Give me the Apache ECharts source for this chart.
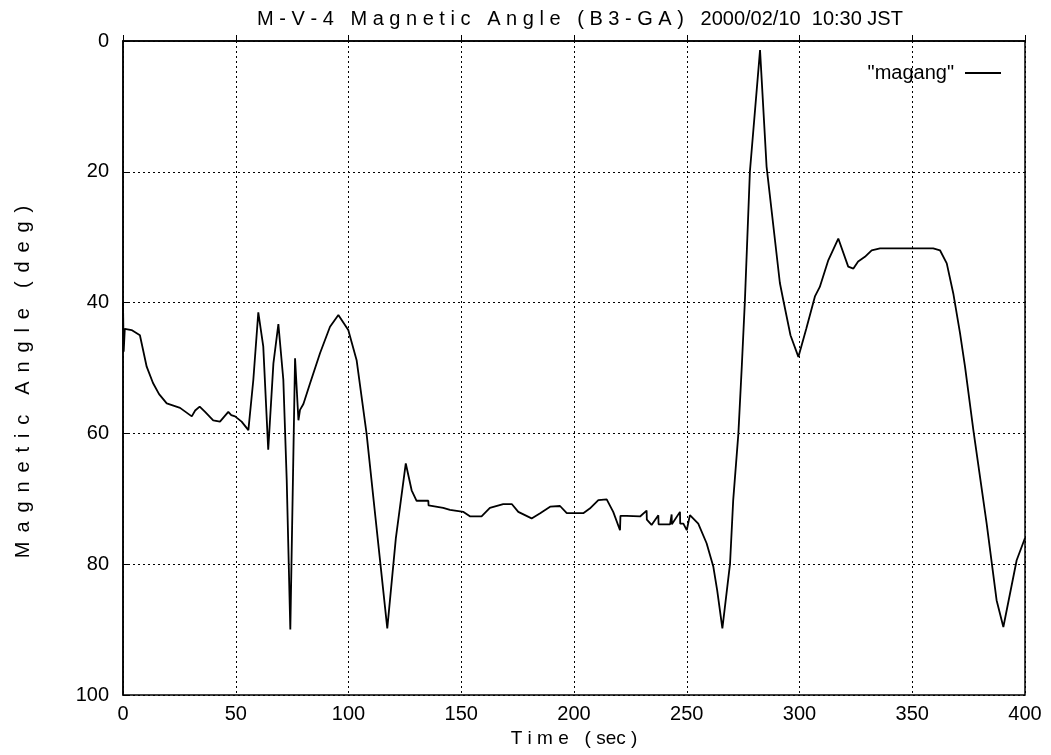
<!DOCTYPE html>
<html>
<head>
<meta charset="utf-8">
<script src="https://cdn.jsdelivr.net/npm/echarts@6/dist/echarts.min.js"></script>
<style>
html,body{margin:0;padding:0;background:#fff;}
#chart{width:1051px;height:755px;}
</style>
</head>
<body>
<div id="chart"></div>
<script>
var titleText = 'M - V - 4   M a g n e t i c   A n g l e   ( B 3 - G A )   2000/02/10  10:30 JST';
var xName = 'T i m e   ( sec )';
var yName = 'M \u2006a \u2006g \u2006n \u2006e \u2006t \u2006i \u2006c   \u2006A \u2006n \u2006g \u2006l \u2006e   \u2006( \u2006d \u2006e \u2006g \u2006)';
var seriesName = '"magang"';

var timeSec = [
  0, 0.3, 0.8, 3.8, 7.5, 10.5, 13.3, 16, 19.4, 25.3, 30.5, 32, 34, 36.4, 40, 43, 46.7, 48, 49.7, 52.6, 55.6,
  57.8, 60, 62.2, 64.4, 66.7, 68.9, 71.1, 72.6, 74.2, 76.3, 77.8, 78.5, 80, 83, 87.4, 91.8, 95.5, 99.9,
  103.6, 108, 112, 117.2, 121, 125.4, 128, 130.2, 135.4, 135.5, 142, 145, 151, 154, 159, 162.7, 168.6,
  172.4, 175.3, 181.2, 185, 189.4, 193.8, 196.8, 204.1, 207, 210.8, 214.5, 217.4, 220.4, 220.6, 223.3,
  229.3, 232.2, 232.3, 234.4, 237.4, 237.5, 242.6, 243.3, 243.4, 247, 247.1, 248.5, 250, 251.4, 255.1,
  258.8, 261.8, 263.5, 265.8, 269.2, 270.6, 272.9, 274.4, 275.8, 278, 282.5, 285.4, 291.3, 292.8, 296, 299.5,
  303, 306.9, 309, 312.8, 317.2, 321.6, 323.9, 326, 329, 332, 335.7, 359.3, 362.3, 365.3, 368.2, 371.2,
  373.4, 377.1, 383, 387.4, 390.4, 396.3, 400
];
var angleDeg = [
  40, 47.5, 44, 44.2, 45, 49.8, 52.3, 54, 55.4, 56.1, 57.4, 56.5, 55.9, 56.7, 58, 58.2, 56.7, 57.2, 57.4, 58.2, 59.5,
  51.8, 41.5, 46.7, 62.5, 49.3, 43.3, 51.8, 67.1, 90, 48.5, 58, 56.4, 55.5, 52.3, 47.7, 43.7, 41.9, 44.2,
  48.8, 60, 73, 89.8, 76, 64.6, 68.7, 70.3, 70.3, 71, 71.4, 71.7, 72, 72.7, 72.7, 71.4, 70.8,
  70.8, 72, 73, 72.2, 71.2, 71.1, 72.2, 72.2, 71.5, 70.2, 70.1, 72, 74.8, 72.6, 72.6,
  72.7, 71.8, 73.2, 74, 72.5, 73.9, 73.9, 72.4, 73.9, 72, 73.8, 73.8, 74.8, 72.5, 73.8,
  76.8, 80.4, 84, 89.8, 79.9, 70.2, 60, 49.8, 39.6, 20, 1.4, 19.2, 37, 39.6, 45, 48.3,
  44, 39, 37.6, 33.5, 30.2, 34.5, 34.8, 33.7, 33, 32, 31.7, 31.7, 32, 34, 38.6, 44.7,
  49.8, 59.5, 73.8, 85.5, 89.6, 79.4, 76
];
var xTicks = [0, 50, 100, 150, 200, 250, 300, 350, 400];
var yTicks = [0, 20, 40, 60, 80, 100];

var points = timeSec.map(function (t, i) { return [t, angleDeg[i]]; });
var font = 'Liberation Sans, Arial, sans-serif';
var chart = echarts.init(document.getElementById('chart'), null, {renderer: 'canvas'});
chart.setOption({
  animation: false,
  backgroundColor: '#fff',
  title: {
    text: titleText,
    left: 575, top: 4, textAlign: 'center',
    textStyle: {fontFamily: font, fontSize: 20, fontWeight: 'normal', color: '#000'}
  },
  legend: {
    data: [seriesName],
    right: 45, top: 58,
    align: 'right',
    itemWidth: 36, itemHeight: 2, icon: 'rect', itemGap: 8,
    textStyle: {fontFamily: font, fontSize: 20, color: '#000', padding: [0, 6, 0, 0]}
  },
  grid: {
    left: 123, right: 26, top: 41, bottom: 60,
    show: true, borderColor: '#000', borderWidth: 1.5, containLabel: false
  },
  xAxis: {
    type: 'value', min: xTicks[0], max: xTicks[xTicks.length - 1], interval: 50,
    name: xName, nameLocation: 'middle', nameGap: 32,
    nameTextStyle: {fontFamily: font, fontSize: 19, color: '#000'},
    axisLine: {show: true, lineStyle: {color: '#000', width: 1.5}},
    axisTick: {show: true, inside: true, length: 6, lineStyle: {color: '#000'}},
    axisLabel: {fontFamily: font, fontSize: 20, color: '#000', margin: 9},
    splitLine: {show: true, lineStyle: {color: '#000', type: [2, 3], width: 1}}
  },
  yAxis: {
    type: 'value', inverse: true, min: yTicks[0], max: yTicks[yTicks.length - 1], interval: 20,
    name: yName, nameLocation: 'middle', nameGap: 90, nameRotate: 90,
    nameTextStyle: {fontFamily: font, fontSize: 20, color: '#000', padding: [0, 28, 0, 0]},
    axisLine: {show: true, lineStyle: {color: '#000', width: 1.5}},
    axisTick: {show: true, inside: true, length: 6, lineStyle: {color: '#000'}},
    axisLabel: {fontFamily: font, fontSize: 20, color: '#000', margin: 14},
    splitLine: {show: true, lineStyle: {color: '#000', type: [2, 3], width: 1}}
  },
  series: [{
    name: seriesName,
    type: 'line',
    data: points,
    showSymbol: false,
    symbol: 'none',
    lineStyle: {color: '#000', width: 1.8},
    itemStyle: {color: '#000'}
  }]
});
</script>
</body>
</html>
